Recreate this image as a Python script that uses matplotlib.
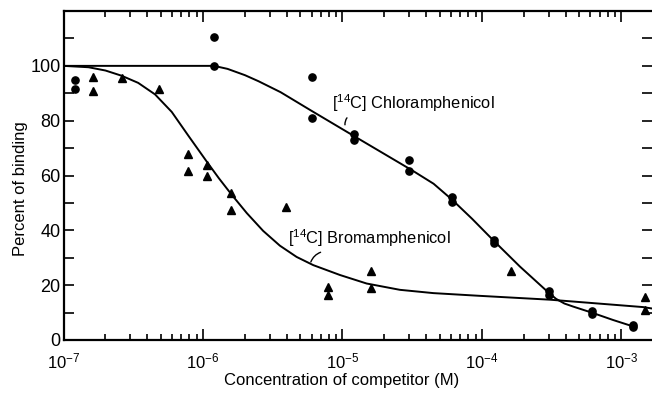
import numpy as np
import matplotlib
matplotlib.use("Agg")
import matplotlib.pyplot as plt
from matplotlib.ticker import LogLocator, NullFormatter, FixedLocator

plt.rcParams['font.family'] = ['Liberation Sans', 'DejaVu Sans']
plt.rcParams['mathtext.fontset'] = 'custom'
plt.rcParams['mathtext.rm'] = 'Liberation Sans'
plt.rcParams['mathtext.it'] = 'Liberation Sans'
plt.rcParams['mathtext.default'] = 'rm'

# Данные [14C] хлорамфеникол (точки)
chl_x = [1.2e-7, 1.2e-7, 1.2e-6, 1.2e-6, 6e-6, 6e-6, 1.2e-5, 1.2e-5, 3e-5, 3e-5,
         6.1e-5, 6.1e-5, 1.22e-4, 1.22e-4, 3.03e-4, 3.03e-4, 6.2e-4, 6.2e-4, 1.22e-3, 1.22e-3]
chl_y = [95, 91.5, 110.5, 100, 96, 81, 75, 73, 65.5, 61.5,
         52.3, 50.5, 36.6, 35.2, 17.7, 16.5, 10.7, 9.5, 5.5, 4.8]

# Данные [14C] бромамфеникол (точки)
brom_x = [1.64e-7, 1.64e-7, 2.64e-7, 4.8e-7, 7.8e-7, 7.8e-7, 1.07e-6, 1.07e-6, 1.6e-6, 1.6e-6,
          3.94e-6, 7.9e-6, 7.9e-6, 1.6e-5, 1.6e-5, 1.61e-4, 1.47e-3, 1.47e-3]
brom_y = [96, 91, 95.7, 91.7, 68, 61.7, 64, 60, 53.7, 47.6,
          48.6, 19.5, 16.5, 25.3, 19, 25.3, 15.5, 11]

# Кривые
chl_curve_x = [1e-7, 1.2e-6, 1.5e-6, 2e-6, 2.5e-6, 3e-6, 3.6e-6, 6e-6, 1.2e-5, 3.2e-5,
               4.5e-5, 6.1e-5, 8.5e-5, 1.22e-4, 1.87e-4, 3.03e-4, 3.4e-4, 3.9e-4, 4.5e-4,
               6.2e-4, 8.7e-4, 1.22e-3]
chl_curve_y = [100, 100, 98.9, 96.6, 94.4, 92.4, 90.4, 83.6, 74.5, 61.7,
               57.0, 51.2, 44.2, 36.1, 26.8, 17.1, 15.0, 13.3, 12.2,
               9.9, 7.3, 4.9]

brom_curve_x = [1e-7, 1.51e-7, 2e-7, 2.61e-7, 3.43e-7, 4.53e-7, 5.97e-7, 7.86e-7, 1.07e-6,
                1.3e-6, 1.6e-6, 2.06e-6, 2.7e-6, 3.56e-6, 4.69e-6, 6.18e-6, 9.6e-6, 1.49e-5,
                2.58e-5, 4.48e-5, 9.68e-5, 3.07e-4, 1.43e-3, 1.65e-3]
brom_curve_y = [100, 99.5, 98.3, 96.4, 93.8, 89.6, 83.2, 74.5, 64.9,
                59.0, 53.1, 46.3, 39.8, 34.4, 30.3, 27.3, 23.7, 20.6,
                18.3, 17.1, 16.1, 14.7, 12.0, 11.5]

x_major = [1e-7, 1e-6, 1e-5, 1e-4, 1e-3]
y_major = [0, 20, 40, 60, 80, 100]
y_minor = [10, 30, 50, 70, 90, 110, 120]

fig = plt.figure(figsize=(6.52, 3.93), dpi=100)
ax = fig.add_axes([0.0974, 0.1349, 0.9026, 0.837])

ax.plot(chl_curve_x, chl_curve_y, color='black', lw=1.4, solid_joinstyle='round')
ax.plot(brom_curve_x, brom_curve_y, color='black', lw=1.4, solid_joinstyle='round')
ax.plot(chl_x, chl_y, 'o', color='black', ms=5.2, clip_on=False)
ax.plot(brom_x, brom_y, '^', color='black', ms=6, clip_on=False)

ax.set_xscale('log')
ax.set_xlim(1e-7, 1.656e-3)
ax.set_ylim(0, 120)

ax.xaxis.set_major_locator(FixedLocator(x_major))
ax.xaxis.set_minor_locator(LogLocator(base=10, subs=np.arange(2, 10), numticks=20))
ax.xaxis.set_minor_formatter(NullFormatter())
ax.set_yticks(y_major)
ax.set_yticks(y_minor, minor=True)

ax.tick_params(which='both', direction='in', top=True, right=True, width=1.2,
               colors='black')
ax.tick_params(axis='x', which='major', length=8, pad=8, labelsize=12)
ax.tick_params(axis='x', which='minor', length=4)
ax.tick_params(axis='y', which='both', length=7, pad=2, labelsize=13)

for side in ['left', 'bottom', 'top']:
    ax.spines[side].set_linewidth(1.6)
ax.spines['right'].set_visible(False)

ax.set_xlabel('Concentration of competitor (M)', fontsize=12)
ax.set_ylabel('Percent of binding', fontsize=12)
ax.xaxis.set_label_coords(0.473, -0.1)
ax.yaxis.set_label_coords(-0.06, 0.46)

# Подписи кривых с выносками
ax.text(8.4e-6, 86.3, '[$^{14}$C] Chloramphenicol', fontsize=11.8, va='center', ha='left')
ax.annotate('', xy=(1.05e-5, 77.5), xytext=(1.11e-5, 81.8),
            arrowprops=dict(arrowstyle='-', color='black', lw=1.0,
                            connectionstyle='arc3,rad=0.3'))
ax.text(4.06e-6, 37.2, '[$^{14}$C] Bromamphenicol', fontsize=11.8, va='center', ha='left')
ax.annotate('', xy=(5.85e-6, 27.5), xytext=(7.28e-6, 32.3),
            arrowprops=dict(arrowstyle='-', color='black', lw=1.0,
                            connectionstyle='arc3,rad=0.3'))

fig.savefig('out.png', dpi=100)
